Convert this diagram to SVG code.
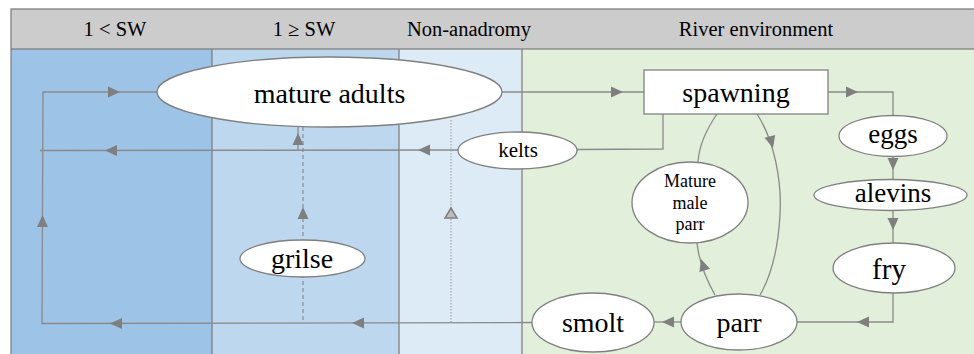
<svg xmlns="http://www.w3.org/2000/svg" xmlns:xlink="http://www.w3.org/1999/xlink" width="974" height="354" viewBox="0 0 974 354">
<style>
.hdr{font-family:"Liberation Serif","Times New Roman",serif;font-size:20.5px;fill:#000;text-anchor:middle}
.lbl{font-family:"Liberation Serif","Times New Roman",serif;fill:#000;text-anchor:middle}
.node{fill:#fff;stroke:#808080;stroke-width:1.3}
.ln{fill:none;stroke:#8a8a8a;stroke-width:1.3}
.dash{fill:none;stroke:#808080;stroke-width:1;stroke-dasharray:4 3}
.dot{fill:none;stroke:#9a9a9a;stroke-width:1;stroke-dasharray:1.5 1.5}
.div{stroke:#808080;stroke-width:1.3}
</style>
<defs>
<polygon id="ah" points="0,0 -12,-5.5 -12,5.5" fill="#7f7f7f"/>
<polygon id="ahh" points="0,0 -10,-6 -10,6" fill="#bdbdbd" stroke="#7f7f7f" stroke-width="1.5"/>
</defs>
<rect x="0" y="0" width="974" height="354" fill="#fff"/>
<g id="panels">
<rect x="11" y="49" width="201" height="306" fill="#9DC3E6"/>
<rect x="212" y="49" width="187" height="306" fill="#BDD7EE"/>
<rect x="399" y="49" width="123" height="306" fill="#DDEBF7"/>
<rect x="522" y="49" width="453" height="306" fill="#E2EFDA"/>
<line class="div" x1="11" y1="49" x2="11" y2="354"/>
<line class="div" x1="212" y1="49" x2="212" y2="354"/>
<line class="div" x1="399" y1="49" x2="399" y2="354"/>
<line class="div" x1="522" y1="49" x2="522" y2="354"/>
</g>
<g id="header">
<rect x="11" y="9" width="970" height="40" fill="#CCCCCC" stroke="#808080" stroke-width="1.3"/>
<text class="hdr" x="115" y="36">1 &lt; SW</text>
<text class="hdr" x="304" y="36">1 ≥ SW</text>
<text class="hdr" x="469" y="36">Non-anadromy</text>
<text class="hdr" x="756" y="36">River environment</text>
</g>
<g id="connectors">
<path class="ln" d="M502,92 L644,92"/>
<use xlink:href="#ah" transform="translate(623,92)"/>
<path class="ln" d="M828,92 L893,92 L893,115"/>
<use xlink:href="#ah" transform="translate(858,92)"/>
<path class="ln" d="M893,157 L893,179"/>
<use xlink:href="#ah" transform="translate(893,170) rotate(90)"/>
<path class="ln" d="M893,211 L893,243"/>
<use xlink:href="#ah" transform="translate(893,230) rotate(90)"/>
<path class="ln" d="M893,293 L893,322 L797,322"/>
<use xlink:href="#ah" transform="translate(857,322) rotate(180)"/>
<path class="ln" d="M681,322 L654,322"/>
<use xlink:href="#ah" transform="translate(662,322) rotate(180)"/>
<path class="ln" d="M532,322.5 L42,323.5 L43,92 L157,92"/>
<use xlink:href="#ah" transform="translate(352,323) rotate(180)"/>
<use xlink:href="#ah" transform="translate(110,323.5) rotate(180)"/>
<use xlink:href="#ah" transform="translate(42.5,215) rotate(-90)"/>
<use xlink:href="#ah" transform="translate(120,92)"/>
<path class="ln" d="M663,114 L663,149 L577,149.5"/>
<path class="ln" d="M458,150 L40,150.5"/>
<use xlink:href="#ah" transform="translate(418,150) rotate(180)"/>
<use xlink:href="#ah" transform="translate(105,150.5) rotate(180)"/>
<path class="ln" d="M298,150 L298,127"/>
<use xlink:href="#ah" transform="translate(298,133) rotate(-90)"/>
<path class="dash" d="M303,127 L303,323"/>
<use xlink:href="#ah" transform="translate(303,207) rotate(-90)"/>
<path class="dot" d="M451,120 L451,323"/>
<use xlink:href="#ahh" transform="translate(451,208) rotate(-90)"/>
<path class="ln" d="M717,114 C706,130 699,146 698,162"/>
<path class="ln" d="M757,114 C774,140 782,180 780,215 C778,250 771,276 760,295"/>
<use xlink:href="#ah" transform="translate(773,148) rotate(75)"/>
<path class="ln" d="M715,295 C706,279 699,262 697,243"/>
<use xlink:href="#ah" transform="translate(701,259) rotate(-108)"/>
</g>
<g id="mature-adults">
<ellipse class="node" cx="329.5" cy="92" rx="172.5" ry="35"/>
<text class="lbl" x="329.5" y="103" font-size="28">mature adults</text>
</g>
<g id="spawning">
<rect class="node" x="644" y="70" width="184" height="44"/>
<text class="lbl" x="736" y="102" font-size="28">spawning</text>
</g>
<g id="kelts">
<ellipse class="node" cx="517.5" cy="150.5" rx="59.5" ry="18.5"/>
<text class="lbl" x="518" y="157" font-size="21">kelts</text>
</g>
<g id="eggs">
<ellipse class="node" cx="893" cy="136" rx="54" ry="20.5"/>
<text class="lbl" x="893" y="143" font-size="27">eggs</text>
</g>
<g id="alevins">
<ellipse class="node" cx="890.5" cy="195" rx="76.5" ry="15.5"/>
<text class="lbl" x="893" y="202" font-size="27">alevins</text>
</g>
<g id="fry">
<ellipse class="node" cx="894" cy="268" rx="61" ry="25"/>
<text class="lbl" x="889" y="279" font-size="29">fry</text>
</g>
<g id="mature-male-parr">
<ellipse class="node" cx="690" cy="202.5" rx="58" ry="40.5"/>
<text class="lbl" x="690" y="187" font-size="18">Mature</text>
<text class="lbl" x="690" y="209" font-size="18">male</text>
<text class="lbl" x="690" y="230" font-size="18">parr</text>
</g>
<g id="smolt">
<ellipse class="node" cx="593" cy="322.5" rx="61" ry="29.5"/>
<text class="lbl" x="593" y="332" font-size="28">smolt</text>
</g>
<g id="parr">
<ellipse class="node" cx="739" cy="322" rx="58" ry="28"/>
<text class="lbl" x="739" y="332" font-size="28">parr</text>
</g>
<g id="grilse">
<ellipse class="node" cx="302.5" cy="258.5" rx="62.5" ry="18.5"/>
<text class="lbl" x="302" y="268" font-size="28">grilse</text>
</g>
</svg>
